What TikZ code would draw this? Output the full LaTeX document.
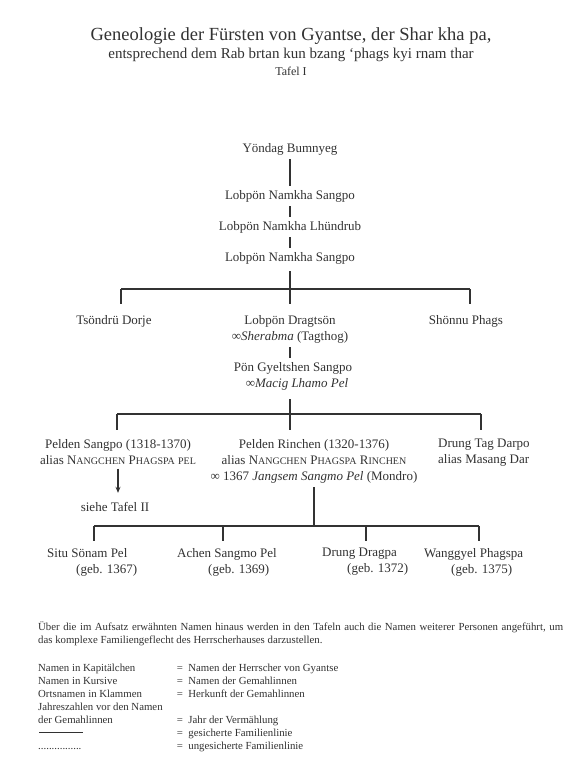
\documentclass[tikz,border=0pt]{standalone}
\usepackage{fontspec}
\setmainfont{Liberation Serif}
\usepackage{xcolor}
\usepackage{tikz}
\usetikzlibrary{arrows.meta, positioning, calc}
\definecolor{ink}{RGB}{50, 50, 50}
\definecolor{paper}{RGB}{255, 255, 255}
% fake small capitals (Liberation Serif has none)
\newcommand{\kap}[1]{{\fontsize{10}{12}\selectfont\MakeUppercase{#1}}}

\begin{document}
\begin{tikzpicture}[
    x=1pt, y=-1pt,
    every node/.style={text=ink, inner xsep=0pt, inner ysep=4pt},
    heading/.style={anchor=base, font=\fontsize{18.5}{22}\selectfont},
    subheading/.style={anchor=base, font=\fontsize{15}{18}\selectfont},
    plate/.style={anchor=base, font=\fontsize{12}{14}\selectfont},
    person/.style={anchor=base, font=\fontsize{13}{16}\selectfont, text height=9pt, text depth=3pt},
    family/.style={anchor=north, align=center, font=\fontsize{13}{16}\selectfont},
    child/.style={anchor=north west, align=left, font=\fontsize{13}{16}\selectfont},
    note/.style={anchor=north west, inner sep=0pt, font=\fontsize{10.8}{13}\selectfont},
    tie/.style={draw=ink, line width=1.2pt}
]
    \useasboundingbox[fill=paper] (0,0) rectangle (568,768);

    % Heading
    \node [heading] (title) at (291,41) {Geneologie der Fürsten von Gyantse, der Shar kha pa,};
    \node [subheading] (source) at (291,59) {entsprechend dem Rab brtan kun bzang ‘phags kyi rnam thar};
    \node [plate] (tafel) at (291,75) {Tafel I};

    % Nodes
    \node [person] (yondag) at (290,152) {Yöndag Bumnyeg};
    \node [person] (sangpo1) at (290,199) {Lobpön Namkha Sangpo};
    \node [person] (lhundrub) at (290,230) {Lobpön Namkha Lhündrub};
    \node [person] (sangpo2) at (290,261) {Lobpön Namkha Sangpo};

    \node [person] (tsondru) at (114,324) {Tsöndrü Dorje};
    \node [family] (dragtson) at (290,311) {Lobpön Dragtsön\\∞\textit{Sherabma} (Tagthog)};
    \node [person] (shonnu) at (466,324) {Shönnu Phags};

    \node [family] (gyeltshen) at (293,358) {Pön Gyeltshen Sangpo\\\hspace*{8pt}∞\textit{Macig Lhamo Pel}};

    \node [family] (psangpo) at (118,435) {Pelden Sangpo (1318-1370)\\alias N\kap{angchen} P\kap{hagspa} \kap{pel}};
    \node [family] (rinchen) at (314,435) {Pelden Rinchen (1320-1376)\\alias N\kap{angchen} P\kap{hagspa} R\kap{inchen}\\∞ 1367 \textit{Jangsem Sangmo Pel} (Mondro)};
    \node [child] (tagdarpo) at (438,435) {Drung Tag Darpo\\alias Masang Dar};
    \node [person] (siehe) at (115,511) {siehe Tafel II};

    \node [child] (situ) at (47,544) {Situ Sönam Pel\\\hspace*{29pt}(geb. 1367)};
    \node [child] (achen) at (177,544) {Achen Sangmo Pel\\\hspace*{31pt}(geb. 1369)};
    \node [child] (dragpa) at (322,544) {Drung Dragpa\\\hspace*{25pt}(geb. 1372)};
    \node [child] (wanggyel) at (424,544) {Wanggyel Phagspa\\\hspace*{27pt}(geb. 1375)};

    % Forks
    \coordinate (fork1) at (290,289);
    \coordinate (fork1w) at (121,289);
    \coordinate (fork1e) at (470,289);
    \coordinate (fork2) at (290,414);
    \coordinate (fork2w) at (117,414);
    \coordinate (fork2e) at (481,414);
    \coordinate (fork3) at (314,526);
    \coordinate (fork3a) at (94,526);
    \coordinate (fork3b) at (223,526);
    \coordinate (fork3c) at (366,526);
    \coordinate (fork3d) at (479,526);

    % Paths
    \draw [tie] (yondag) -- (sangpo1);
    \draw [tie] (sangpo1) -- (lhundrub);
    \draw [tie] (lhundrub) -- (sangpo2);
    \draw [tie, shorten <=3pt] (sangpo2) -- (fork1);
    \draw [tie] (fork1w) -- (fork1e);
    \draw [tie, shorten >=7pt] (fork1w) -- (fork1w |- tsondru.north);
    \draw [tie, shorten >=7pt] (fork1) -- (dragtson);
    \draw [tie, shorten >=7pt] (fork1e) -- (fork1e |- shonnu.north);
    \draw [tie] (dragtson.south) -- (dragtson.south |- gyeltshen.north);
    \draw [tie, shorten <=5pt] (gyeltshen.south -| fork2) -- (fork2);
    \draw [tie] (fork2w) -- (fork2e);
    \draw [tie, shorten >=5pt] (fork2w) -- (fork2w |- psangpo.north);
    \draw [tie, shorten >=5pt] (fork2) -- (fork2 |- rinchen.north);
    \draw [tie, shorten >=5pt] (fork2e) -- (fork2e |- tagdarpo.north);
    \draw [tie, shorten >=5pt, -{Stealth[length=6pt, width=5pt]}] (psangpo.south) -- (psangpo.south |- siehe.north);
    \draw [tie] (rinchen.south -| fork3) -- (fork3);
    \draw [tie] (fork3a) -- (fork3d);
    \draw [tie, shorten >=3pt] (fork3a) -- (fork3a |- situ.north);
    \draw [tie, shorten >=3pt] (fork3b) -- (fork3b |- achen.north);
    \draw [tie, shorten >=3pt] (fork3c) -- (fork3c |- dragpa.north);
    \draw [tie, shorten >=3pt] (fork3d) -- (fork3d |- wanggyel.north);

    % Legend
    \node [note, text width=525pt, align=justify] (remark) at (38,622) {Über die im Aufsatz erwähnten Namen hinaus werden in den Tafeln auch die Namen weiterer Personen angeführt, um\linebreak das komplexe Familiengeflecht des Herrscherhauses darzustellen.};
    \node [note] (key) at (38,662) {\begin{tabular}{@{}p{138.6pt}@{}l@{}}
        Namen in Kapitälchen & =\hspace{5.5pt}Namen der Herrscher von Gyantse\\
        Namen in Kursive & =\hspace{5.5pt}Namen der Gemahlinnen\\
        Ortsnamen in Klammen & =\hspace{5.5pt}Herkunft der Gemahlinnen\\
        Jahreszahlen vor den Namen & \\
        der Gemahlinnen & =\hspace{5.5pt}Jahr der Vermählung\\
        \hspace*{1pt}\rule[3pt]{44pt}{0.9pt} & =\hspace{5.5pt}gesicherte Familienlinie\\
        ................ & =\hspace{5.5pt}ungesicherte Familienlinie
    \end{tabular}};

\end{tikzpicture}
\end{document}
